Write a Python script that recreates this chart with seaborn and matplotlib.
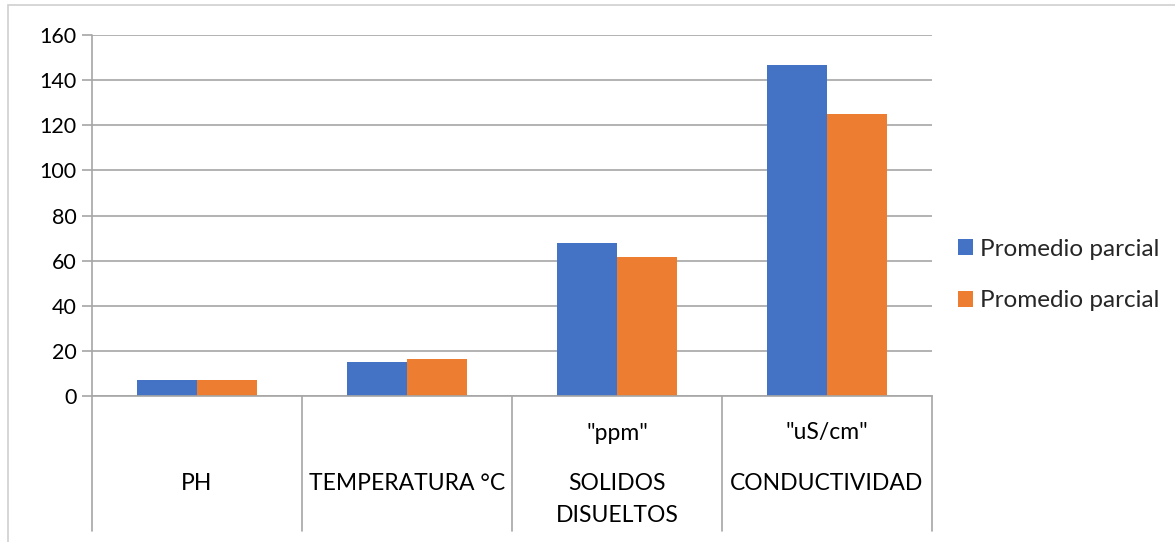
import matplotlib
matplotlib.use("Agg")
import matplotlib.pyplot as plt
import matplotlib.transforms as mtransforms
from matplotlib.patches import Rectangle, Patch
import seaborn as sns
import pandas as pd

categories = ["PH", "TEMPERATURA °C", "SOLIDOS DISUELTOS", "CONDUCTIVIDAD"]
upper_labels = ["", "", "\"ppm\"", "\"uS/cm\""]
lower_labels = ["PH", "TEMPERATURA °C", "SOLIDOS\nDISUELTOS", "CONDUCTIVIDAD"]
series_names = ["Promedio parcial", "Promedio parcial"]
series_1 = [7.3, 15.1, 67.6, 146.5]
series_2 = [7.3, 16.3, 61.7, 125.2]
colors = ["#4472C4", "#ED7D31"]
yticks = [0, 20, 40, 60, 80, 100, 120, 140, 160]

sns.set_theme(style="white")
plt.rcParams["font.family"] = ["Lato", "DejaVu Sans"]

rows = []
for i, c in enumerate(categories):
    rows.append({"cat": c, "serie": "s1", "val": series_1[i]})
    rows.append({"cat": c, "serie": "s2", "val": series_2[i]})
df = pd.DataFrame(rows)

W, H = 1175, 542
fig = plt.figure(figsize=(W / 100, H / 100), dpi=100)
fig.patch.set_facecolor("white")
ax = fig.add_axes([92 / W, 1 - 396 / H, (932 - 92) / W, (396 - 35) / H])

sns.barplot(data=df, x="cat", y="val", hue="serie", order=categories,
            hue_order=["s1", "s2"], palette=colors, width=0.572,
            saturation=1, ax=ax, legend=False, errorbar=None)
for p in ax.patches:
    p.set_edgecolor("none")

ax.set_xlim(-0.5, 3.5)
ax.set_ylim(0, 160)
ax.set_yticks(yticks)
ax.set_yticklabels([str(v) for v in yticks], fontsize=15.5, color="#000000")
ax.set_xticks([])
ax.set_xlabel("")
ax.set_ylabel("")
ax.grid(axis="y", color="#a6a6a6", linewidth=1.2)
ax.set_axisbelow(True)
for s in ["top", "right"]:
    ax.spines[s].set_visible(False)
ax.spines["bottom"].set_color("#a6a6a6")
ax.spines["bottom"].set_linewidth(1.2)
ax.spines["left"].set_visible(False)
ax.tick_params(axis="y", length=7, width=1.2, color="#a6a6a6", pad=4,
               direction="out", left=True)

# multi-level category axis
trans = mtransforms.blended_transform_factory(ax.transData, fig.transFigure)
y_top = 1 - 396 / H
y_bot = 1 - 531 / H
for b in [-0.5, 0.5, 1.5, 2.5, 3.5]:
    ax.plot([b, b], [y_top, y_bot], transform=trans, color="#a6a6a6",
            linewidth=1.2, clip_on=False)
# y axis line
ax.plot([-0.5, -0.5], [y_top, 1 - 35 / H], transform=trans, color="#a6a6a6",
        linewidth=1.2, clip_on=False)
for i in range(len(categories)):
    if upper_labels[i]:
        ax.text(i, 1 - 433 / H, upper_labels[i], transform=trans, ha="center",
                va="center", fontsize=16.5, color="#000000")
    for k, line in enumerate(lower_labels[i].split("\n")):
        ax.text(i, 1 - (483 + 32 * k) / H, line, transform=trans,
                ha="center", va="center", fontsize=16.5, color="#000000")

# legend
handles = [Patch(facecolor=colors[0], edgecolor="none"),
           Patch(facecolor=colors[1], edgecolor="none")]
fig.legend(handles, series_names, loc="center left",
           bbox_to_anchor=(948 / W, 1 - 275 / H), frameon=False, fontsize=17.5,
           handlelength=0.62, handleheight=0.62, handletextpad=0.3,
           labelspacing=1.25, borderaxespad=0)

# chart border
fig.patches.append(Rectangle((8 / W, -0.1), 1.2, 1.1 - 5 / H,
                             transform=fig.transFigure, fill=False,
                             edgecolor="#d0d0d0", linewidth=1.2))

fig.savefig("out.png", dpi=100, facecolor="white")
